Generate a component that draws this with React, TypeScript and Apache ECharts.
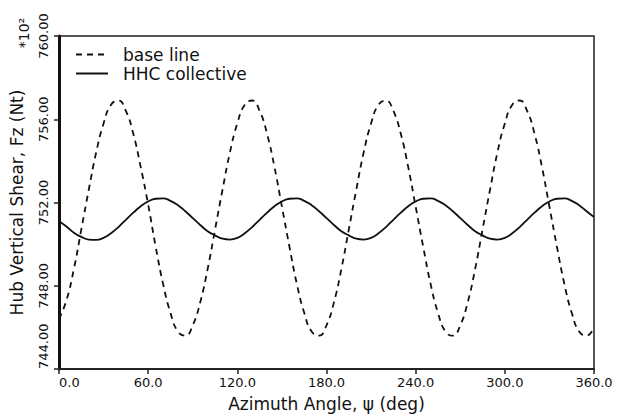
import React, { useEffect, useRef } from "react";
import * as echarts from "echarts";

const angles: number[] = [
  0, 5, 10, 15, 20, 25, 30, 35, 40, 45, 50, 55, 60, 65, 70, 75, 80, 85,
  90, 95, 100, 105, 110, 115, 120, 125, 130, 135, 140, 145, 150, 155, 160, 165, 170, 175,
  180, 185, 190, 195, 200, 205, 210, 215, 220, 225, 230, 235, 240, 245, 250, 255, 260, 265,
  270, 275, 280, 285, 290, 295, 300, 305, 310, 315, 320, 325, 330, 335, 340, 345, 350, 355, 360,
];

const baseLine: number[] = [
  746.4, 747.3, 748.8, 750.7, 752.6, 754.4, 755.8, 756.7, 756.9, 756.4, 755.3, 753.7, 751.9, 749.9, 748.1, 746.7, 745.8, 745.6,
  746.1, 747.2, 748.8, 750.7, 752.6, 754.4, 755.8, 756.7, 756.9, 756.4, 755.3, 753.7, 751.8, 749.9, 748.1, 746.7, 745.8, 745.6,
  746.1, 747.2, 748.8, 750.7, 752.6, 754.4, 755.8, 756.7, 756.9, 756.4, 755.3, 753.7, 751.8, 749.9, 748.1, 746.7, 745.8, 745.6,
  746.1, 747.2, 748.8, 750.7, 752.6, 754.4, 755.8, 756.7, 756.9, 756.4, 755.3, 753.7, 751.8, 749.9, 748.1, 746.7, 745.8, 745.6, 746.0,
];

const hhcCollective: number[] = [
  751.1, 750.85, 750.55, 750.35, 750.22, 750.2, 750.3, 750.52, 750.82, 751.17, 751.51, 751.82, 752.05, 752.18, 752.2, 752.08, 751.87, 751.58,
  751.25, 750.92, 750.62, 750.42, 750.26, 750.22, 750.3, 750.52, 750.82, 751.17, 751.51, 751.82, 752.05, 752.18, 752.2, 752.08, 751.87, 751.58,
  751.25, 750.92, 750.62, 750.42, 750.26, 750.22, 750.3, 750.52, 750.82, 751.17, 751.51, 751.82, 752.05, 752.18, 752.2, 752.08, 751.87, 751.58,
  751.25, 750.92, 750.62, 750.42, 750.26, 750.22, 750.3, 750.52, 750.82, 751.17, 751.51, 751.82, 752.05, 752.18, 752.2, 752.08, 751.87, 751.58, 751.3,
];

const seriesNames: string[] = ["base line", "HHC collective"];
const xTicks = { min: 0, max: 360, interval: 60 };
const yTicks = { min: 744, max: 760, interval: 4 };

const FONT = "DejaVu Sans";

export default function App() {
  const ref = useRef<HTMLDivElement>(null);
  useEffect(() => {
    if (!ref.current) return;
    const chart = echarts.init(ref.current, undefined, { renderer: "svg" });
    chart.setOption({
      animation: false,
      backgroundColor: "#fff",
      textStyle: { fontFamily: FONT, color: "#111" },
      grid: {
        left: 58,
        right: 26,
        top: 36,
        bottom: 48,
        show: true,
        borderColor: "#222",
        borderWidth: 1.5,
      },
      legend: {
        orient: "vertical",
        left: 70,
        top: 40,
        itemWidth: 32,
        itemHeight: 14,
        itemGap: 0,
        data: seriesNames,
        itemStyle: { opacity: 0 },
        textStyle: {
          fontFamily: FONT,
          fontSize: 17,
          color: "#111",
          lineHeight: 19,
          padding: [0, 0, 0, 10],
        },
      },
      xAxis: {
        type: "value",
        min: xTicks.min,
        max: xTicks.max,
        interval: xTicks.interval,
        name: "Azimuth Angle, \u03C8 (deg)",
        nameLocation: "middle",
        nameGap: 26,
        nameTextStyle: { fontFamily: FONT, fontSize: 17, color: "#111" },
        axisLine: { show: true, onZero: false, lineStyle: { color: "#222", width: 2 } },
        axisTick: { show: true, inside: false, length: 5, lineStyle: { color: "#222", width: 1.5 } },
        axisLabel: {
          margin: 7,
          fontFamily: FONT,
          fontSize: 13,
          color: "#111",
          alignMinLabel: "left",
          formatter: (v: number) => v.toFixed(1),
        },
        splitLine: { show: false },
      },
      yAxis: {
        type: "value",
        min: yTicks.min,
        max: yTicks.max,
        interval: yTicks.interval,
        name: "Hub Vertical Shear, Fz (Nt)",
        nameLocation: "middle",
        nameGap: 34,
        nameRotate: 90,
        nameTextStyle: { fontFamily: FONT, fontSize: 17, color: "#111" },
        axisLine: { show: true, onZero: false, lineStyle: { color: "#111", width: 3 } },
        axisTick: { show: true, inside: false, length: 5, lineStyle: { color: "#222", width: 1.5 } },
        axisLabel: {
          rotate: 90,
          align: "center",
          verticalAlign: "middle",
          alignMinLabel: "left",
          margin: 16,
          fontFamily: FONT,
          fontSize: 13,
          color: "#111",
          formatter: (v: number) => v.toFixed(2),
        },
        splitLine: { show: false },
      },
      graphic: [
        {
          type: "text",
          x: 24,
          y: 33,
          rotation: Math.PI / 2,
          style: {
            text: "*10\u00B2",
            fontFamily: FONT,
            fontSize: 14,
            fill: "#111",
            align: "center",
            verticalAlign: "middle",
          },
        },
      ],
      series: [
        {
          name: seriesNames[0],
          type: "line",
          smooth: true,
          symbol: "none",
          data: angles.map((a, i) => [a, baseLine[i]]),
          lineStyle: { color: "#111", width: 1.8, type: [6, 5] },
          itemStyle: { color: "#111" },
        },
        {
          name: seriesNames[1],
          type: "line",
          smooth: true,
          symbol: "none",
          data: angles.map((a, i) => [a, hhcCollective[i]]),
          lineStyle: { color: "#111", width: 1.8, type: "solid" },
          itemStyle: { color: "#111" },
        },
      ],
    });
    return () => chart.dispose();
  }, []);
  return <div ref={ref} style={{ width: 620, height: 417, position: "absolute", left: 0, top: 0 }} />;
}
